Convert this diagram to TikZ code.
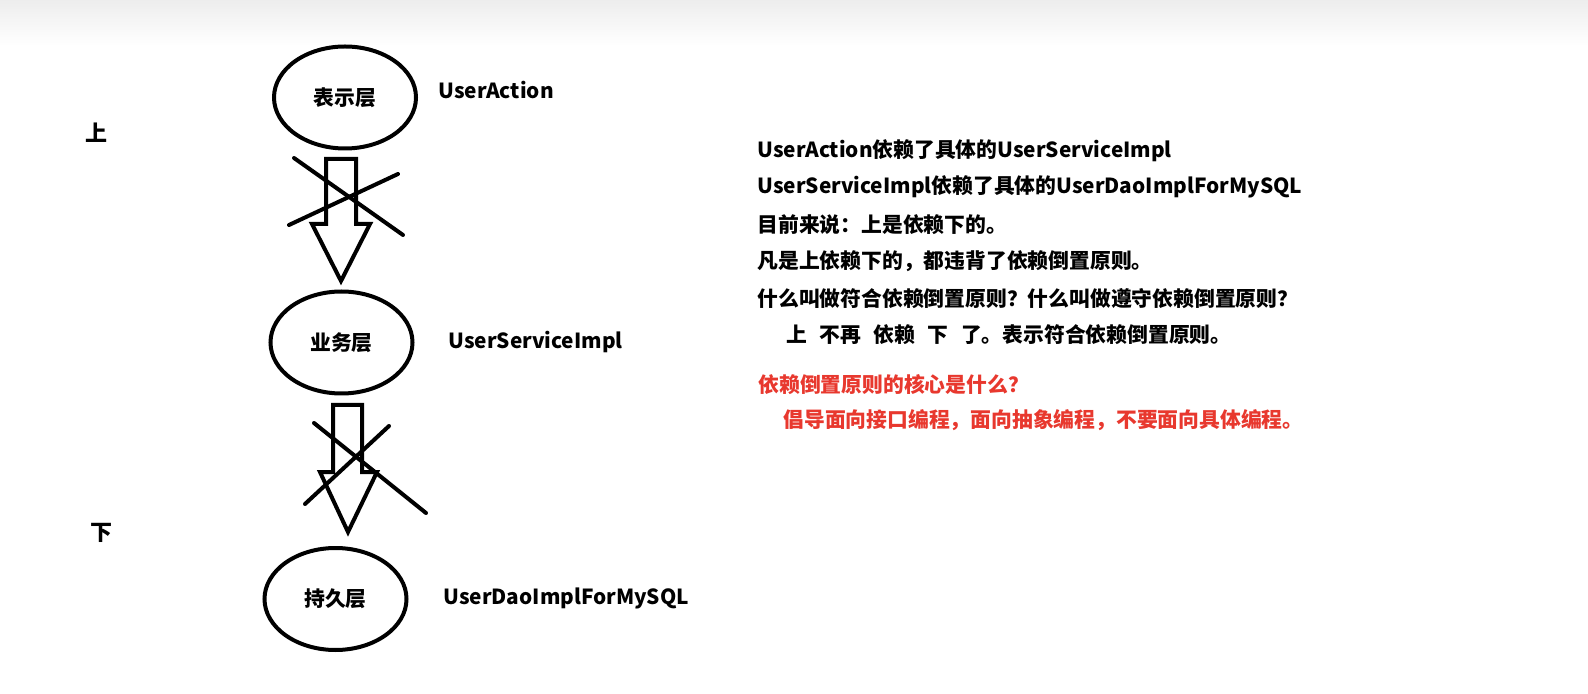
\documentclass[tikz,border=0pt]{standalone}
\usepackage{fontspec}
\setmainfont{Noto Sans CJK SC}
\usepackage{tikz}
\usetikzlibrary{shapes.geometric,positioning,calc}
\usepackage{xcolor}
\definecolor{noteRed}{RGB}{232,56,46}

\begin{document}
\begin{tikzpicture}[x=0.5pt, y=-0.5pt,
    every node/.style={font=\fontsize{10.4}{12}\selectfont\bfseries, inner sep=0pt},
    layer/.style={draw, ellipse, line width=2pt, minimum width=71pt, minimum height=51pt},
    blockarrow/.style={draw, line width=2pt},
    crossout/.style={draw, line width=2pt, line cap=round},
    note/.style={anchor=west}]
            \useasboundingbox (0,0) rectangle (1588,694);
            % Background
            \fill[white] (0,0) rectangle (1588,694);
            \shade[top color=black!7, bottom color=white] (0,0) rectangle (1588,46);
            % Layers
            \node[layer] (pres) at (345,97.5) {表示层};
            \node[layer] (serv) at (341.5,342.5) {业务层};
            \node[layer] (dao) at (335.5,599) {持久层};
            % Classes
            \node[note] (act) at (438,90) {UserAction};
            \node[note] (simpl) at (448,342) {UserServiceImpl};
            \node[note] (dimpl) at (443,598) {UserDaoImplForMySQL};
            % Up and down
            \node[font=\fontsize{11}{12}\selectfont\bfseries] (up) at (96.5,133) {上};
            \node[font=\fontsize{11}{12}\selectfont\bfseries] (down) at (101,533) {下};
            
            \draw[blockarrow] (326,159) -- (356,159) -- (356,224) -- (370,224) -- (341,281) -- (312,224) -- (326,224) -- cycle;
            \draw[blockarrow] (333,405) -- (362,405) -- (362,472) -- (377,472) -- (348,532) -- (320,472) -- (333,472) -- cycle;
            
            % Crossed out
            \draw[crossout] (294,158) -- (403,235);
            \draw[crossout] (289,225) -- (398,174);
            \draw[crossout] (314,423) -- (426,513);
            \draw[crossout] (305,504) -- (389,426);
            
            % Notes on the right
            \node[note] (l1) at (757,151) {UserAction依赖了具体的UserServiceImpl};
            \node[note] (l2) at (757,187) {UserServiceImpl依赖了具体的UserDaoImplForMySQL};
            \node[note] (l3) at (757,225) {目前来说：上是依赖下的。};
            \node[note] (l4) at (757,261) {凡是上依赖下的，都违背了依赖倒置原则。};
            \node[note] (l5) at (757,299) {什么叫做符合依赖倒置原则？什么叫做遵守依赖倒置原则？};
            \node[note] (l6) at (786,335) {上\hspace{0.6em}不再\hspace{0.6em}依赖\hspace{0.6em}下\hspace{0.6em}了。表示符合依赖倒置原则。};
            \node[note, text=noteRed] (q) at (758,385) {依赖倒置原则的核心是什么？};
            \node[note, text=noteRed] (a) at (783,420) {倡导面向接口编程，面向抽象编程，不要面向具体编程。};
        \end{tikzpicture}
\end{document}
